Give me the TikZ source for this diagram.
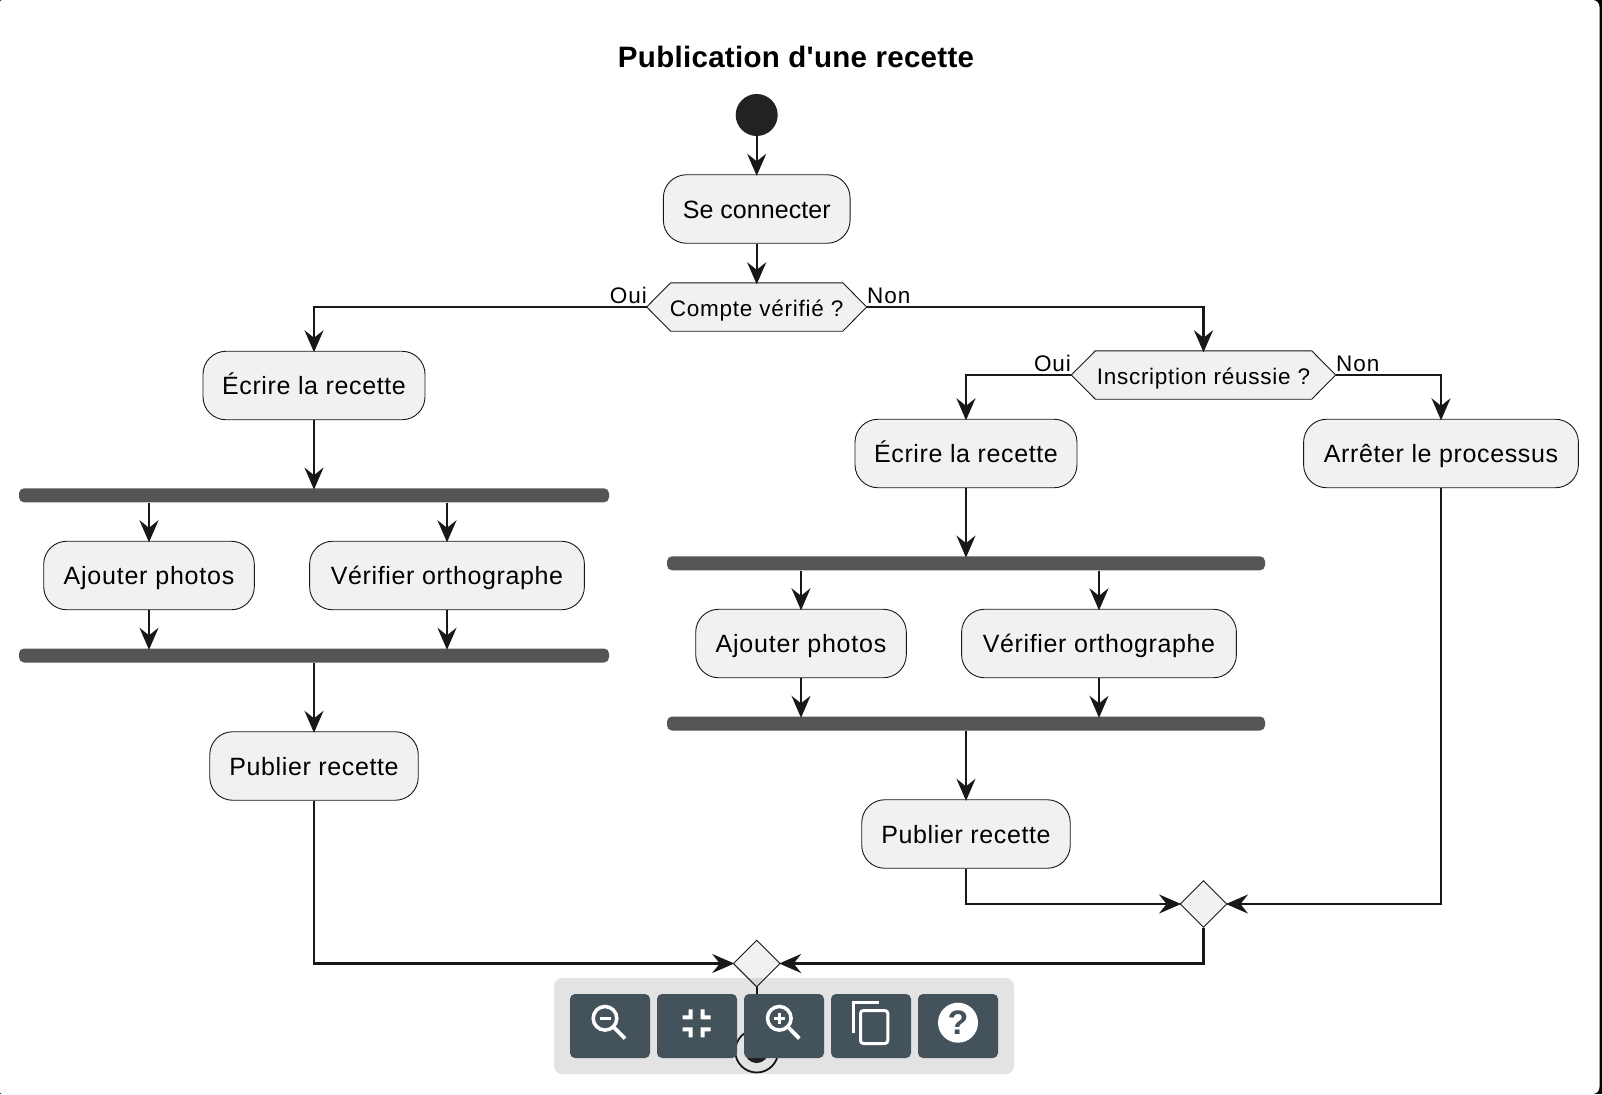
\documentclass[tikz,border=0pt]{standalone}
\usepackage{fontspec}
\setmainfont{Liberation Sans}
\newfontfamily\boxfont[LetterSpace=2.5]{Liberation Sans}
\newfontfamily\ajfont[LetterSpace=3.2]{Liberation Sans}
\newfontfamily\plainfont[LetterSpace=0.2]{Liberation Sans}
\newfontfamily\hexfont[LetterSpace=3.3]{Liberation Sans}
\newfontfamily\labfont[LetterSpace=4]{Liberation Sans}
\newfontfamily\titlefont[LetterSpace=1]{Liberation Sans}
\usetikzlibrary{arrows.meta,backgrounds,shapes.geometric,calc}
\definecolor{ink}{HTML}{181818}
\definecolor{dot}{HTML}{222222}
\definecolor{nodefill}{HTML}{F1F1F1}
\definecolor{barfill}{HTML}{555555}
\definecolor{btn}{HTML}{44525B}
\tikzset{
  act/.style={draw=ink,line width=0.9pt,fill=nodefill,rounded corners=23pt,inner sep=0pt,minimum height=68.5pt,text height=18.6pt,text depth=0pt,text=black,font=\boxfont\fontsize{25}{28}\selectfont},
  hextext/.style={inner sep=0pt,minimum height=48pt,text height=18pt,text depth=0pt,text=black,font=\hexfont\fontsize{22.5}{26}\selectfont},
  hexshape/.style={draw=ink,line width=0.9pt,fill=nodefill},
  forkbar/.style={fill=barfill,rounded corners=5pt,inner sep=0pt,minimum height=14pt},
  merge/.style={diamond,aspect=1,draw=ink,line width=0.9pt,fill=nodefill,inner sep=0pt,minimum width=47pt,minimum height=47pt},
  conn/.style={draw=ink,line width=2.2pt,shorten >=-1.5pt,-{Stealth[length=22pt,width=19pt,inset=7.5pt]}},
  lab/.style={inner sep=0pt,text=black,font=\labfont\fontsize{22.5}{26}\selectfont},
  toolbtn/.style={fill=btn,rounded corners=5pt,inner sep=0pt,minimum width=80pt,minimum height=64pt},
  iconline/.style={draw=white,line width=3pt}
}
\begin{document}
\begin{tikzpicture}[x=1pt,y=-1pt]
\useasboundingbox (0,0) rectangle (1602,1094);
\node[inner sep=0pt,font=\titlefont\bfseries\fontsize{29.5}{34}\selectfont] (title) at (796,57) {Publication d'une recette};
\node[circle,fill=dot,inner sep=0pt,minimum size=42pt] (start) at (756.7,115) {};
\node[act,minimum width=186.7pt,font=\plainfont\fontsize{25}{28}\selectfont] (conn1) at (756.7,209) {Se connecter};
\node[hextext,minimum width=219.7pt] (q1) at (756.7,307) {Compte vérifié ?};
\node[hextext,minimum width=264pt] (q2) at (1203.5,375) {Inscription réussie ?};
\node[lab,anchor=base east] (oui1) at (647,303) {Oui};
\node[lab,anchor=base west] (non1) at (867,303) {Non};
\node[lab,anchor=base east] (oui2) at (1071,371) {Oui};
\node[lab,anchor=base west] (non2) at (1336,371) {Non};
% left branch
\node[act,minimum width=222pt] (ecl) at (314,385.5) {Écrire la recette};
\node[forkbar,minimum width=590pt] (b1) at (314,495.3) {};
\node[act,minimum width=210.6pt,font=\ajfont\fontsize{25}{28}\selectfont] (ajl) at (149,575.5) {Ajouter photos};
\node[act,minimum width=274.8pt] (vel) at (447,575.5) {Vérifier orthographe};
\node[forkbar,minimum width=590pt] (b2) at (314,655.5) {};
\node[act,minimum width=208.5pt] (pul) at (314,766) {Publier recette};
% right branch
\node[act,minimum width=222pt] (ecr) at (966,453.5) {Écrire la recette};
\node[forkbar,minimum width=598pt] (b3) at (966,563.3) {};
\node[act,minimum width=210.6pt,font=\ajfont\fontsize{25}{28}\selectfont] (ajr) at (801,643.5) {Ajouter photos};
\node[act,minimum width=274.8pt] (ver) at (1099,643.5) {Vérifier orthographe};
\node[forkbar,minimum width=598pt] (b4) at (966,723.5) {};
\node[act,minimum width=208.5pt] (pur) at (966,834) {Publier recette};
\node[act,minimum width=274.8pt] (arr) at (1441,453.5) {Arrêter le processus};
\node[merge] (sd) at (1203.5,904) {};
\node[merge] (bd) at (756.7,963.5) {};
\node[circle,draw=ink,line width=1.8pt,inner sep=0pt,minimum size=43pt,fill=white] (stop) at (756.7,1051) {};
\node[circle,fill=dot,inner sep=0pt,minimum size=24pt] (stopin) at (756.7,1051) {};
\begin{scope}[on background layer]
  \fill[black] (0,0) rectangle (1602,1094);
  \fill[white] [rounded corners=2pt] (0,1094) -- (0,0) [rounded corners=7pt] -- (1599.5,0) -- (1599.5,1094) [rounded corners=2pt] -- cycle;
  \path[hexshape] (q1.west) -- ([xshift=24pt]q1.north west) -- ([xshift=-24pt]q1.north east) -- (q1.east) -- ([xshift=-24pt]q1.south east) -- ([xshift=24pt]q1.south west) -- cycle;
  \path[hexshape] (q2.west) -- ([xshift=24pt]q2.north west) -- ([xshift=-24pt]q2.north east) -- (q2.east) -- ([xshift=-24pt]q2.south east) -- ([xshift=24pt]q2.south west) -- cycle;
\end{scope}
\path[conn] (start) -- (conn1);
\path[conn] (conn1) -- (q1.north);
\path[conn] (q1.west) -| (ecl.north);
\path[conn] (q1.east) -| (q2.north);
\path[conn] (q2.west) -| (ecr.north);
\path[conn] (q2.east) -| (arr.north);
\path[conn] (ecl) -- (b1.north);
\path[conn] (b1.south -| ajl.north) -- (ajl.north);
\path[conn] (b1.south -| vel.north) -- (vel.north);
\path[conn] (ajl.south) -- (b2.north -| ajl.south);
\path[conn] (vel.south) -- (b2.north -| vel.south);
\path[conn] (b2) -- (pul.north);
\path[conn] (ecr) -- (b3.north);
\path[conn] (b3.south -| ajr.north) -- (ajr.north);
\path[conn] (b3.south -| ver.north) -- (ver.north);
\path[conn] (ajr.south) -- (b4.north -| ajr.south);
\path[conn] (ver.south) -- (b4.north -| ver.south);
\path[conn] (b4) -- (pur.north);
\path[conn] (pul.south) |- (bd.west);
\path[conn] (pur.south) |- (sd.west);
\path[conn] (arr.south) |- (sd.east);
\path[conn] (sd.south) |- (bd.east);
\path[conn] (bd.south) -- (stop.north);
% toolbar
\fill[black,opacity=0.11,rounded corners=8pt] (554,978) rectangle (1014,1074);
\node[toolbtn] (t1) at (610,1026) {};
\node[toolbtn] (t2) at (697,1026) {};
\node[toolbtn] (t3) at (784,1026) {};
\node[toolbtn] (t4) at (871,1026) {};
\node[toolbtn] (t5) at (958,1026) {};
% zoom out
\draw[iconline,line width=3.5pt] (605,1018.3) circle (11.8pt);
\draw[iconline,line width=3.8pt] (613.5,1027) -- (625,1038.5);
\draw[draw=white,line width=2.4pt] (599.5,1018.3) -- (610.5,1018.3);
% fit
\begin{scope}[shift={(696.7,1023.3)},scale=2]
 \fill[white] (-7,-4) -- (-4,-4) -- (-4,-7) -- (-2,-7) -- (-2,-2) -- (-7,-2) -- cycle;
 \fill[white] (-7,4) -- (-4,4) -- (-4,7) -- (-2,7) -- (-2,2) -- (-7,2) -- cycle;
 \fill[white] (2,7) -- (4,7) -- (4,4) -- (7,4) -- (7,2) -- (2,2) -- cycle;
 \fill[white] (4,-4) -- (4,-7) -- (2,-7) -- (2,-2) -- (7,-2) -- (7,-4) -- cycle;
\end{scope}
% zoom in
\draw[iconline,line width=3.5pt] (779.3,1018.3) circle (11.8pt);
\draw[iconline,line width=3.8pt] (788,1027) -- (799.3,1038.5);
\draw[draw=white,line width=2.4pt] (773.8,1018.3) -- (784.8,1018.3) (779.3,1012.8) -- (779.3,1023.8);
% copy
\draw[iconline] (853.2,1032.7) -- (853.2,1002.5) -- (879.3,1002.5);
\draw[iconline,rounded corners=3pt] (860.5,1010.5) rectangle (887.8,1043.5);
% help
\node[circle,fill=white,inner sep=0pt,minimum size=40pt] (helpc) at (958,1022.7) {};
\node[inner sep=0pt,text=btn,font=\bfseries\fontsize{34}{38}\selectfont] (helpq) at (958,1022.7) {?};
\end{tikzpicture}
\end{document}
